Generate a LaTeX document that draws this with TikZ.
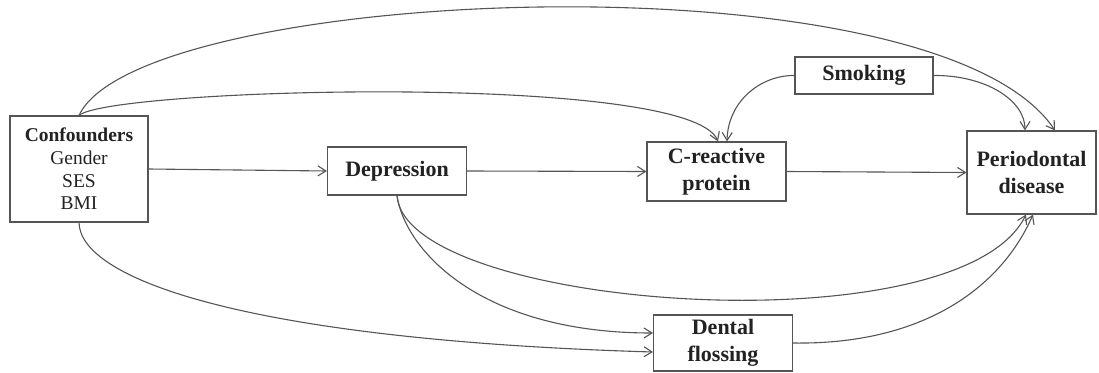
\documentclass[tikz,border=0pt]{standalone}
\usepackage{fontspec}
\setmainfont{Liberation Serif}
\usetikzlibrary{arrows.meta}
\definecolor{edgegray}{HTML}{555555}
\definecolor{inkgray}{HTML}{222222}
\begin{document}
\begin{tikzpicture}[x=1pt,y=-1pt,
  box/.style={draw=edgegray,line width=1.1pt,rectangle,inner sep=0pt,align=center,
    text=inkgray,font=\fontsize{22}{27}\selectfont\bfseries},
  link/.style={draw=edgegray,line width=1.1pt,-{Straight Barb[length=8pt,width=10pt]}}]
\useasboundingbox (0,0) rectangle (1099,372);
% variables
\node[box,minimum width=138pt,minimum height=106pt,
      font=\fontsize{19.5}{22.7}\selectfont] (conf) at (79,169)
  {{\bfseries Confounders}\\Gender\\SES\\BMI};
\node[box,minimum width=139pt,minimum height=48pt] (dep) at (397,171) {Depression};
\node[box,minimum width=139pt,minimum height=59pt] (crp) at (716.5,171.5) {C-reactive\\protein};
\node[box,minimum width=138pt,minimum height=37pt] (smoke) at (864,75.5) {Smoking};
\node[box,minimum width=129pt,minimum height=83pt] (perio) at (1031.5,172.5) {Periodontal\\disease};
\node[box,minimum width=139pt,minimum height=56pt] (floss) at (723,343) {Dental\\flossing};
% straight paths along the main chain
\draw[link] (conf.east) -- (dep.west);
\draw[link] (dep.east) -- (crp.west);
\draw[link] (crp.east) -- (perio.west);
% confounder paths
\draw[link] (conf.north) .. controls (139,-14) and (935,-49) .. ([xshift=23.5pt]perio.north);
\draw[link] (conf.north) .. controls (110,88) and (690,72) .. ([xshift=1.5pt]crp.north);
\draw[link] (conf.south) .. controls (80,280) and (250,340) .. ([yshift=-9pt]floss.west);
% smoking paths
\draw[link] (smoke.west) .. controls (762,75) and (728,100) .. ([xshift=10.5pt]crp.north);
\draw[link] (smoke.east) .. controls (985,75) and (1025,100) .. ([xshift=-6.5pt]perio.north);
% depression paths
\draw[link] (dep.south) .. controls (405,310) and (960,350) .. ([xshift=-5.5pt]perio.south);
\draw[link] (dep.south) .. controls (405,250) and (480,333) .. ([yshift=10pt]floss.west);
% flossing to outcome
\draw[link] (floss.east) .. controls (920,345) and (1000,290) .. ([xshift=1.5pt]perio.south);
\end{tikzpicture}
\end{document}
